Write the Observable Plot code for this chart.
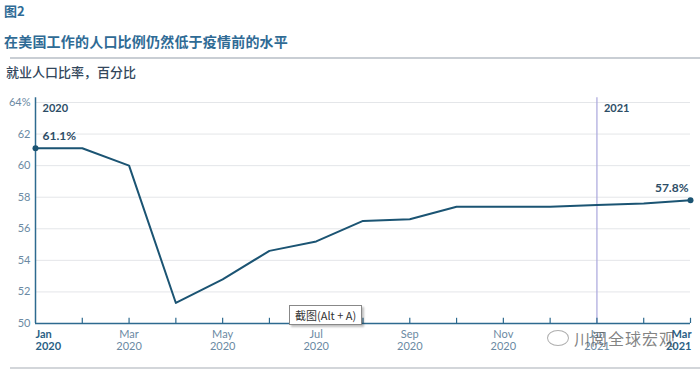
<!DOCTYPE html>
<html>
<head>
<meta charset="utf-8">
<script src="https://cdn.jsdelivr.net/npm/d3@7"></script>
<script src="https://cdn.jsdelivr.net/npm/@observablehq/plot@0.6"></script>
<style>
  html, body { margin: 0; padding: 0; background: #fff; }
  #wrap { position: relative; width: 700px; height: 373px; overflow: hidden; font-family: "Noto Sans CJK SC", "Noto Sans", sans-serif; }
  .fig { position: absolute; left: 4px; top: 1px; font-size: 13px; font-weight: 700; color: #2f6b95; }
  .title { position: absolute; left: 4px; top: 31px; font-size: 14px; font-weight: 700; color: #2f6b95; letter-spacing: 0.2px; }
  .rule1 { position: absolute; left: 10px; right: 0; top: 57px; height: 2px; background: #c9ced4; }
  .sub { position: absolute; left: 6px; top: 62px; font-size: 13px; font-weight: 500; color: #33475c; }
  .rule2 { position: absolute; left: 10px; right: 0; top: 367px; height: 2px; background: #d3d6da; }
  #chart { position: absolute; left: 0; top: 93px; }
  .tip { position: absolute; left: 289px; top: 305px; padding: 1px 5px; font-size: 11px; color: #333; background: #fff; border: 1px solid #888; box-shadow: 2px 2px 2px rgba(0,0,0,0.25); font-family: "Noto Sans CJK SC", sans-serif; }
  .wm { position: absolute; left: 574px; top: 326px; font-size: 16px; color: rgba(90,90,90,0.75); font-family: "Noto Sans CJK SC", sans-serif; letter-spacing: 1px; }
  .wmicon { position: absolute; left: 547px; top: 330px; width: 20px; height: 14px; border: 1.5px solid rgba(120,120,120,0.6); border-radius: 50%; }
</style>
</head>
<body>
<div id="wrap">
  <div class="fig">图2</div>
  <div class="title">在美国工作的人口比例仍然低于疫情前的水平</div>
  <div class="rule1"></div>
  <div class="sub">就业人口比率，百分比</div>
  <div id="chart"></div>
  <div class="rule2"></div>
  <div class="tip">截图(Alt + A)</div>
  <div class="wmicon"></div>
  <div class="wm">川阅全球宏观</div>
</div>
<script>
const months = ["Jan 2020","Feb 2020","Mar 2020","Apr 2020","May 2020","Jun 2020","Jul 2020","Aug 2020","Sep 2020","Oct 2020","Nov 2020","Dec 2020","Jan 2021","Feb 2021","Mar 2021"];
const values = [61.1, 61.1, 60.0, 51.3, 52.8, 54.6, 55.2, 56.5, 56.6, 57.4, 57.4, 57.4, 57.5, 57.6, 57.8];
const yTicks = [50, 52, 54, 56, 58, 60, 62, 64];
const yTickLabels = ["50", "52", "54", "56", "58", "60", "62", "64%"];
const xLabelMonths = ["Jan", "Mar", "May", "Jul", "Sep", "Nov", "Jan", "Mar"];
const xLabelYears = ["2020", "2020", "2020", "2020", "2020", "2020", "2021", "2021"];
const xLabelIndex = [0, 2, 4, 6, 8, 10, 12, 14];
const yearMarkers = ["2020", "2021"];
const yearMarkerIndex = [0, 12];
const endLabels = ["61.1%", "57.8%"];

const data = months.map((m, i) => ({i, m, v: values[i]}));
const xl = xLabelIndex.map((i, k) => ({i, mon: xLabelMonths[k], yr: xLabelYears[k]}));
const xlFirst = xl.slice(0, 1);
const xlMid = xl.slice(1, -1);
const xlLast = xl.slice(-1);
const yl = yTicks.map((v, k) => ({v, t: yTickLabels[k]}));
const endFirst = [{i: 0, v: values[0], t: endLabels[0]}];
const endLast = [{i: values.length - 1, v: values[values.length - 1], t: endLabels[1]}];

const font = "Lato, 'Open Sans', sans-serif";
const lineColor = "#1b5473";
const tickColor = "#6b8aa3";
const boldColor = "#2a5f85";

function xLabels(arr, opts) {
  return [
    Plot.text(arr, {x: "i", y: 50, text: "mon", dy: 11, fontSize: 11, ...opts}),
    Plot.text(arr, {x: "i", y: 50, text: "yr", dy: 23, fontSize: 11, ...opts})
  ];
}

const chart = Plot.plot({
  width: 700,
  height: 265,
  marginLeft: 35,
  marginRight: 10,
  marginTop: 9,
  marginBottom: 35,
  style: {fontFamily: font, background: "transparent"},
  x: {domain: [0, 14], axis: null},
  y: {domain: [50, 64], axis: null},
  marks: [
    Plot.ruleY(yTicks.filter(v => v > 50), {x1: 0, x2: 14, stroke: "#e4e6e9", strokeWidth: 1}),
    Plot.ruleX([yearMarkerIndex[1]], {y1: 50, y2: 64.3, stroke: "#a9a6dc", strokeWidth: 1.2}),
    Plot.ruleX(d3.range(1, 15), {y1: 50, y2: 50.33, stroke: "#2d6a8f", strokeWidth: 1.2}),
    Plot.ruleY([50], {x1: 0, x2: 14, stroke: "#2d6a8f", strokeWidth: 1.5}),
    Plot.ruleX([0], {y1: 50, y2: 64.3, stroke: "#2d6a8f", strokeWidth: 1.5}),
    Plot.text(yl, {x: 0, y: "v", text: "t", dx: -5, textAnchor: "end", fill: tickColor, fontSize: 11}),
    ...xLabels(xlFirst, {textAnchor: "start", dx: 0, fill: boldColor, fontWeight: 700}),
    ...xLabels(xlMid, {textAnchor: "middle", fill: tickColor}),
    ...xLabels(xlLast, {textAnchor: "end", dx: 1, fill: boldColor, fontWeight: 700}),
    Plot.text(yearMarkerIndex.map((i, k) => ({i, t: yearMarkers[k]})), {x: "i", y: 64, text: "t", dx: 7, dy: 6, textAnchor: "start", fill: "#2d4d66", fontWeight: 700, fontSize: 11}),
    Plot.line(data, {x: "i", y: "v", stroke: lineColor, strokeWidth: 2}),
    Plot.dot([...endFirst, ...endLast], {x: "i", y: "v", r: 3, fill: lineColor}),
    Plot.text(endFirst, {x: "i", y: "v", text: "t", dy: -12, dx: 7, textAnchor: "start", fill: "#2d4d66", fontWeight: 700, fontSize: 12}),
    Plot.text(endLast, {x: "i", y: "v", text: "t", dy: -12, dx: -2, textAnchor: "end", fill: "#2d4d66", fontWeight: 700, fontSize: 12})
  ]
});
document.getElementById("chart").appendChild(chart);
</script>
</body>
</html>
